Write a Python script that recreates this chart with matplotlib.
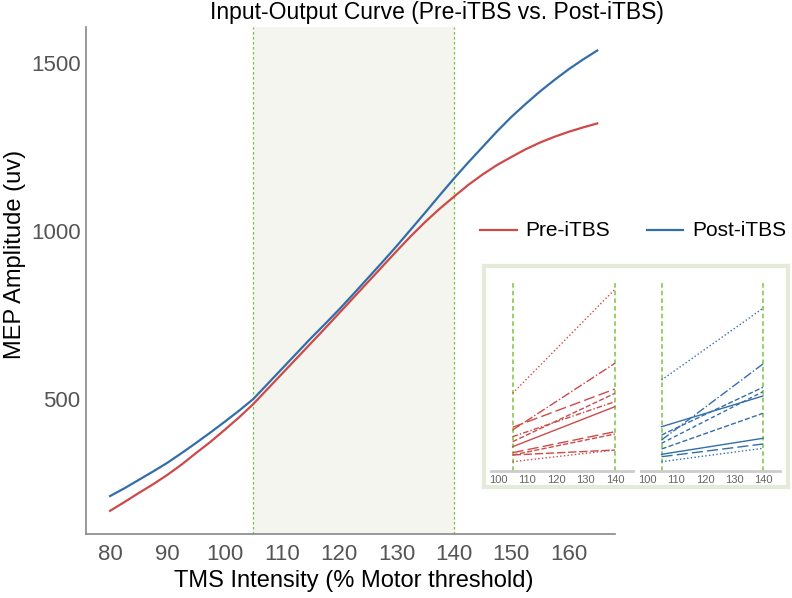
import matplotlib

matplotlib.use("Agg")
import matplotlib.pyplot as plt
from matplotlib.lines import Line2D

plt.rcParams["font.family"] = ["Liberation Sans", "DejaVu Sans"]

# main fitted curves (MEP amplitude vs TMS intensity)
intensity = [80, 82.5, 85, 87.5, 90, 92.5, 95, 97.5, 100, 102.5, 105, 107.5, 110, 112.5,
             115, 117.5, 120, 122.5, 125, 127.5, 130, 132.5, 135, 137.5, 140, 142.5,
             145, 147.5, 150, 152.5, 155, 157.5, 160, 162.5, 165]
pre_mep = [167, 193, 220, 246, 274, 305, 339, 372, 408, 445, 485, 530, 575, 620,
           665, 710, 756, 802, 848, 894, 940, 985, 1027, 1066, 1102, 1137,
           1168, 1196, 1220, 1243, 1263, 1280, 1295, 1308, 1320]
post_mep = [211, 234, 259, 284, 310, 339, 369, 400, 432, 465, 500, 545, 590, 635,
            680, 723, 767, 813, 860, 907, 955, 1005, 1055, 1106, 1156, 1204,
            1250, 1296, 1339, 1378, 1415, 1449, 1481, 1510, 1537]

# inset: individual subjects at 105% and 140%
inset_x = [105, 140]
pre_105 = [777, 410, 437, 293, 343, 243, 183, 160, 160, 93]
pre_140 = [1817, 1077, 820, 777, 693, 643, 393, 370, 210, 210]
post_105 = [910, 443, 310, 360, 277, 220, 167, 143, 93]
post_140 = [1627, 750, 1070, 837, 793, 577, 327, 270, 227]
inset_ticks = [100, 110, 120, 130, 140]

RED = "#cd4a4a"
BLUE = "#336ea9"
GREEN = "#7cc242"

pre_styles = [":", "-.", (0, (8, 3)), "--", (0, (4, 1.5, 1, 1.5)), "-", (0, (8, 3)), "--", (0, (6, 2)), ":"]
post_styles = [":", "-", "-.", "--", (0, (3, 2)), "--", "-", (0, (8, 3)), ":"]

W, H = 792, 598
fig = plt.figure(figsize=(W / 100, H / 100), dpi=100)


def px_box(x0, y0, x1, y1):
    return [x0 / W, 1 - y1 / H, (x1 - x0) / W, (y1 - y0) / H]


ax = fig.add_axes(px_box(86, 27, 615, 534))
ax.axvspan(105, 140, color="#f5f5f0", zorder=0)
ax.axvline(105, color=GREEN, linestyle=(0, (2, 2)), linewidth=0.9, zorder=1)
ax.axvline(140, color=GREEN, linestyle=(0, (2, 2)), linewidth=0.9, zorder=1)
ax.plot(intensity, pre_mep, color=RED, linewidth=1.6, zorder=3)
ax.plot(intensity, post_mep, color=BLUE, linewidth=1.6, zorder=2)
ax.set_xlim(75.8, 168.1)
ax.set_ylim(98, 1607)
ax.set_xticks([80, 90, 100, 110, 120, 130, 140, 150, 160])
ax.set_yticks([500, 1000, 1500])
ax.tick_params(length=0, labelsize=16, labelcolor="#555555")
ax.tick_params(axis="y", pad=4)
ax.tick_params(axis="x", pad=7)
for side in ("top", "right"):
    ax.spines[side].set_visible(False)
for side in ("left", "bottom"):
    ax.spines[side].set_color("#888888")
    ax.spines[side].set_linewidth(1.2)

fig.text(354 / W, 1 - 581 / H, "TMS Intensity (% Motor threshold)",
         ha="center", va="center", fontsize=17)
fig.text(15 / W, 1 - 254 / H, "MEP Amplitude (uv)", rotation=90,
         ha="center", va="center", fontsize=17)
fig.text(437 / W, 1 - 13 / H, "Input-Output Curve (Pre-iTBS vs. Post-iTBS)",
         ha="center", va="center", fontsize=16.5)

# legend drawn by hand so it sits exactly where the reference has it
for (x0, x1, tx, color, label) in [(480, 517, 525, RED, "Pre-iTBS"),
                                   (647, 683, 692, BLUE, "Post-iTBS")]:
    fig.add_artist(Line2D([x0 / W, x1 / W], [1 - 230 / H, 1 - 230 / H],
                          color=color, linewidth=1.6))
    fig.text(tx / W, 1 - 230 / H, label, ha="left", va="center", fontsize=15)

# inset frame
frame = fig.add_axes(px_box(484, 266, 788, 487))
frame.set_xticks([])
frame.set_yticks([])
frame.set_facecolor("white")
for sp in frame.spines.values():
    sp.set_color("#e4ebda")
    sp.set_linewidth(3)


def inset_panel(box, lo, hi, starts, ends, styles, color):
    iax = fig.add_axes(px_box(*box))
    iax.patch.set_alpha(0)
    iax.axvline(105, color=GREEN, linestyle=(0, (3, 2)), linewidth=1.1)
    iax.axvline(140, color=GREEN, linestyle=(0, (3, 2)), linewidth=1.1)
    for s, e, ls in zip(starts, ends, styles):
        iax.plot(inset_x, [s, e], color=color, linestyle=ls, linewidth=1.0)
    iax.set_xlim(lo, hi)
    iax.set_ylim(0, 1880)
    iax.set_xticks(inset_ticks)
    iax.set_yticks([])
    iax.tick_params(length=0, labelsize=8, labelcolor="#666666", pad=3)
    for side in ("top", "right", "left"):
        iax.spines[side].set_visible(False)
    iax.spines["bottom"].set_color("#cccccc")
    iax.spines["bottom"].set_linewidth(2)
    return iax


inset_panel((491, 283, 633, 471), 97.6, 146.2, pre_105, pre_140, pre_styles, RED)
inset_panel((641, 283, 780, 471), 97.9, 145.9, post_105, post_140, post_styles, BLUE)

fig.savefig("out.png", dpi=100)
